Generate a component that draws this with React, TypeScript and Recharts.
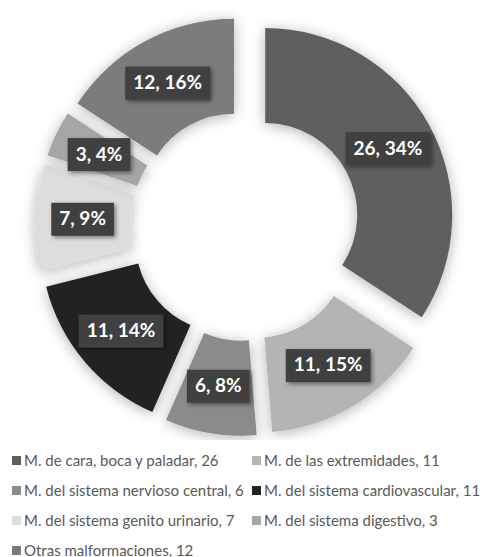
import { PieChart, Pie, Cell, Sector } from 'recharts'

const categories = [
  'M. de cara, boca y paladar',
  'M. de las extremidades',
  'M. del sistema nervioso central',
  'M. del sistema cardiovascular',
  'M. del sistema genito urinario',
  'M. del sistema digestivo',
  'Otras malformaciones',
]
const counts = [26, 11, 6, 11, 7, 3, 12]
const percentLabels = ['34%', '15%', '8%', '14%', '9%', '4%', '16%']
const colors = ['#5e5e5e', '#b4b4b4', '#8b8b8b', '#222222', '#dddddd', '#a6a6a6', '#7b7b7b']

const data = categories.map((name, i) => ({ name, value: counts[i], pct: percentLabels[i] }))

const RAD = Math.PI / 180
const EXPLODE = 23
const LABEL_FONT = '700 19px Lato'

let ctx: CanvasRenderingContext2D | null = null
function textWidth(s: string) {
  if (!ctx) ctx = document.createElement('canvas').getContext('2d')
  if (!ctx) return s.length * 10
  ctx.font = LABEL_FONT
  return ctx.measureText(s).width
}

// each slice pushed out along its mid angle
function ExplodedSlice(props: any) {
  const { cx, cy, midAngle } = props
  const dx = EXPLODE * Math.cos(-midAngle * RAD)
  const dy = EXPLODE * Math.sin(-midAngle * RAD)
  return <Sector {...props} cx={cx + dx} cy={cy + dy} filter="url(#sliceShadow)" stroke="none" />
}

function SliceLabel(props: any) {
  const { cx, cy, midAngle, innerRadius, outerRadius, index } = props
  const r = (innerRadius + outerRadius) / 2 + EXPLODE
  const x = cx + r * Math.cos(-midAngle * RAD)
  const y = cy + r * Math.sin(-midAngle * RAD)
  const txt = `${counts[index]}, ${percentLabels[index]}`
  const w = textWidth(txt) + 16
  const h = 33
  return (
    <g>
      <rect x={x - w / 2} y={y - h / 2} width={w} height={h} fill="#404040" filter="url(#boxShadow)" />
      <text x={x} y={y + 1} textAnchor="middle" dominantBaseline="middle" fill="#ffffff"
        style={{ font: LABEL_FONT }}>
        {txt}
      </text>
    </g>
  )
}

function LegendBox() {
  return (
    <div style={{ position: 'absolute', top: 445, left: 12, width: 480, display: 'flex', flexWrap: 'wrap',
      fontFamily: 'Lato', fontSize: 15, color: '#595959' }}>
      {data.map((d, i) => (
        <div key={d.name} style={{ display: 'flex', alignItems: 'center', minWidth: 236, marginRight: 4, height: 30, whiteSpace: 'nowrap' }}>
          <span style={{ display: 'inline-block', width: 9, height: 9, background: colors[i], marginRight: 3 }} />
          <span>{`${d.name}, ${d.value}`}</span>
        </div>
      ))}
    </div>
  )
}

export default function App() {
  return (
    <div style={{ position: 'absolute', left: 0, top: 0, width: 482, height: 557, background: '#fff', overflow: 'hidden' }}>
      <PieChart width={482} height={440}>
        <defs>
          <filter id="sliceShadow" x="-30%" y="-30%" width="160%" height="160%">
            <feDropShadow dx="0" dy="2" stdDeviation="7" floodColor="#000" floodOpacity="0.3" />
          </filter>
          <filter id="boxShadow" x="-30%" y="-30%" width="160%" height="160%">
            <feDropShadow dx="2" dy="2" stdDeviation="2" floodColor="#000" floodOpacity="0.45" />
          </filter>
        </defs>
        <Pie
          data={data}
          dataKey="value"
          nameKey="name"
          cx={240}
          cy={221}
          innerRadius={92}
          outerRadius={187}
          startAngle={90}
          endAngle={-270}
          stroke="none"
          shape={ExplodedSlice}
          label={SliceLabel}
          labelLine={false}
          isAnimationActive={false}
        >
          {data.map((d, i) => <Cell key={d.name} fill={colors[i]} />)}
        </Pie>
      </PieChart>
      <LegendBox />
    </div>
  )
}
